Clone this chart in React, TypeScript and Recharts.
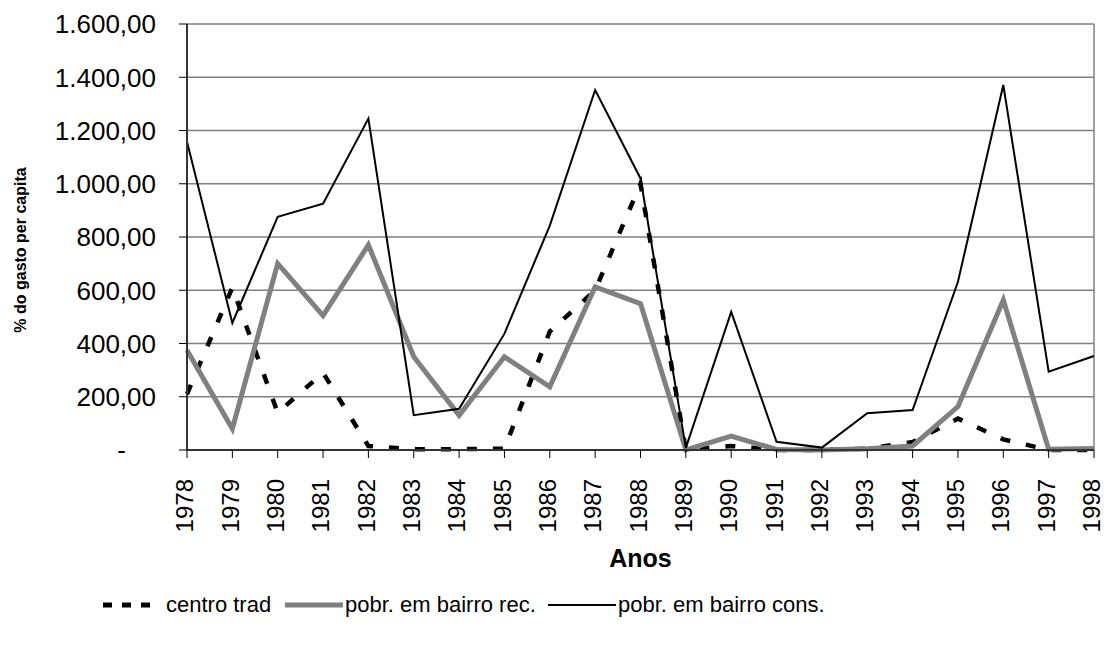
import React from "react";
import {
  LineChart,
  Line,
  XAxis,
  YAxis,
  CartesianGrid,
  Legend,
  ReferenceLine,
} from "recharts";

const years = [
  "1978", "1979", "1980", "1981", "1982", "1983", "1984", "1985", "1986", "1987", "1988",
  "1989", "1990", "1991", "1992", "1993", "1994", "1995", "1996", "1997", "1998",
];
const centroTrad = [210, 610, 140, 290, 15, 3, 3, 5, 445, 600, 1000, 0, 15, 0, 0, 5, 30, 118, 40, 0, 0];
const pobrRec = [375, 80, 700, 505, 770, 350, 130, 350, 237, 613, 550, 0, 52, 2, 0, 5, 15, 163, 563, 3, 6];
const pobrCons = [1158, 477, 876, 925, 1245, 131, 155, 437, 843, 1352, 1020, 8, 519, 31, 9, 138, 150, 632, 1371, 294, 353];
const yTicks = [0, 200, 400, 600, 800, 1000, 1200, 1400, 1600];

const data = years.map((year, i) => ({
  year,
  centro: centroTrad[i],
  rec: pobrRec[i],
  cons: pobrCons[i],
}));

const font = "Arial, 'Liberation Sans', sans-serif";

// 1.600,00 style, zero shown as a dash
function fmt(v: number) {
  if (v === 0) return "-";
  const [int, dec] = v.toFixed(2).split(".");
  return int.replace(/\B(?=(\d{3})+(?!\d))/g, ".") + "," + dec;
}

function YTick({ x, y, payload }: any) {
  const zero = payload.value === 0;
  return (
    <text
      x={zero ? x - 30 : x}
      y={y}
      dy="0.36em"
      textAnchor="end"
      fontSize={26}
      fontFamily={font}
      fill="#000"
    >
      {fmt(payload.value)}
    </text>
  );
}

function XTick({ x, y, payload }: any) {
  const tx = x - 2;
  return (
    <text
      x={tx}
      y={y}
      dy="0.34em"
      transform={`rotate(-90, ${tx}, ${y})`}
      textAnchor="end"
      fontSize={24}
      fontFamily={font}
      fill="#000"
    >
      {payload.value}
    </text>
  );
}

function YTitle({ viewBox }: any) {
  const cx = 20;
  const cy = viewBox ? viewBox.y + viewBox.height / 2 + 13 : 250;
  return (
    <text
      x={cx}
      y={cy}
      transform={`rotate(-90, ${cx}, ${cy})`}
      textAnchor="middle"
      dominantBaseline="central"
      fontSize={16}
      fontWeight="bold"
      fontFamily={font}
      fill="#000"
    >
      % do gasto per capita
    </text>
  );
}

function XTitle({ viewBox }: any) {
  const cx = viewBox ? viewBox.x + viewBox.width / 2 : 640;
  return (
    <text
      x={cx}
      y={558}
      textAnchor="middle"
      dominantBaseline="central"
      fontSize={25}
      fontWeight="bold"
      fontFamily={font}
      fill="#000"
    >
      Anos
    </text>
  );
}

const legendItems = [
  { label: "centro trad", stroke: "#000", width: 5, dash: "9 10", left: 103, mw: 47, gap: 16 },
  { label: "pobr. em bairro rec.", stroke: "#808080", width: 5, dash: undefined, left: 285, mw: 58, gap: 2 },
  { label: "pobr. em bairro cons.", stroke: "#000", width: 2, dash: undefined, left: 548, mw: 68, gap: 2 },
];

function LegendContent() {
  return (
    <div style={{ position: "relative", width: 1104, height: 70 }}>
      {legendItems.map((it) => (
        <div
          key={it.label}
          style={{
            position: "absolute",
            left: it.left,
            top: 10,
            display: "flex",
            alignItems: "center",
            fontFamily: font,
            fontSize: 22,
            color: "#000",
            whiteSpace: "nowrap",
          }}
        >
          <svg width={it.mw} height={28} style={{ display: "block" }}>
            <line
              x1={0}
              y1={14}
              x2={it.mw}
              y2={14}
              stroke={it.stroke}
              strokeWidth={it.width}
              strokeDasharray={it.dash}
            />
          </svg>
          <span style={{ marginLeft: it.gap }}>{it.label}</span>
        </div>
      ))}
    </div>
  );
}

export default function App() {
  return (
    <div style={{ position: "absolute", left: 0, top: 0, width: 1104, height: 651, background: "#fff" }}>
      <LineChart
        width={1104}
        height={651}
        data={data}
        margin={{ top: 24, right: 10, left: 0, bottom: 0 }}
        style={{ fontFamily: font }}
      >
        <CartesianGrid vertical={false} stroke="#808080" strokeWidth={1.5} />
        <XAxis
          dataKey="year"
          interval={0}
          height={131}
          tickSize={8}
          tickMargin={21}
          tick={<XTick />}
          axisLine={{ stroke: "#333", strokeWidth: 2 }}
          tickLine={{ stroke: "#000", strokeWidth: 1 }}
          label={<XTitle />}
        />
        <YAxis
          width={187}
          domain={[0, 1600]}
          ticks={yTicks}
          interval={0}
          tickSize={8}
          tickMargin={23}
          tick={<YTick />}
          axisLine={{ stroke: "#333", strokeWidth: 2 }}
          tickLine={{ stroke: "#000", strokeWidth: 1 }}
          label={<YTitle />}
        />
        <ReferenceLine x="1998" stroke="#808080" strokeWidth={1.5} />
        <Legend verticalAlign="bottom" height={70} content={<LegendContent />} wrapperStyle={{ left: 0, width: 1104 }} />
        <Line
          type="linear"
          dataKey="centro"
          name="centro trad"
          stroke="#000"
          strokeWidth={4.5}
          strokeDasharray="10 16"
          dot={false}
          activeDot={false}
          isAnimationActive={false}
        />
        <Line
          type="linear"
          dataKey="rec"
          name="pobr. em bairro rec."
          stroke="#808080"
          strokeWidth={5}
          dot={false}
          activeDot={false}
          isAnimationActive={false}
        />
        <Line
          type="linear"
          dataKey="cons"
          name="pobr. em bairro cons."
          stroke="#000"
          strokeWidth={2}
          dot={false}
          activeDot={false}
          isAnimationActive={false}
        />
      </LineChart>
    </div>
  );
}
